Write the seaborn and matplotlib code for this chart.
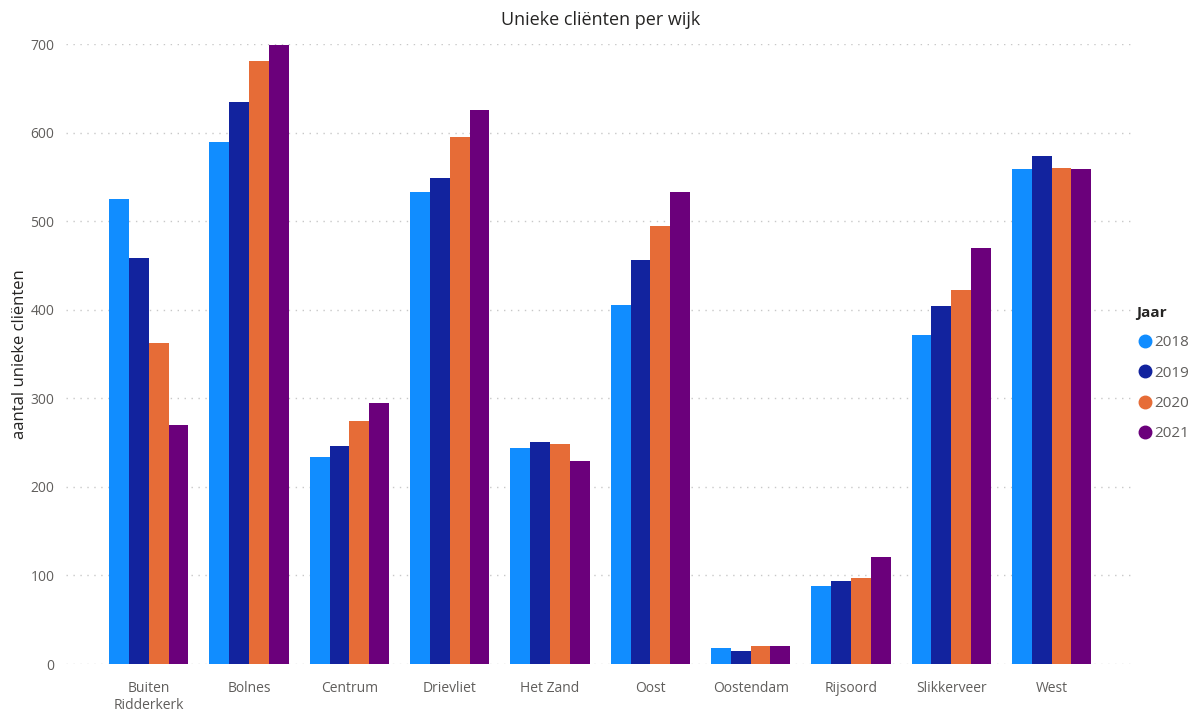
import pandas as pd
import matplotlib.pyplot as plt
import seaborn as sns

# data
wijken = ['Buiten\nRidderkerk', 'Bolnes', 'Centrum', 'Drievliet', 'Het Zand',
          'Oost', 'Oostendam', 'Rijsoord', 'Slikkerveer', 'West']
jaren = ['2018', '2019', '2020', '2021']
clienten_2018 = [525, 589, 234, 533, 244, 405, 18, 88, 371, 559]
clienten_2019 = [458, 634, 246, 549, 251, 456, 15, 94, 404, 574]
clienten_2020 = [362, 681, 274, 595, 248, 494, 20, 97, 422, 560]
clienten_2021 = [270, 699, 295, 625, 229, 533, 20, 121, 470, 559]
kleuren = ['#118DFF', '#12239E', '#E66C37', '#6B007B']

rows = []
for jaar, waarden in zip(jaren, [clienten_2018, clienten_2019, clienten_2020, clienten_2021]):
    for wijk, v in zip(wijken, waarden):
        rows.append({'Wijk': wijk, 'Jaar': jaar, 'Aantal': v})
df = pd.DataFrame(rows)

sns.set_style('white')
plt.rcParams['font.family'] = ['Open Sans', 'DejaVu Sans']

fig = plt.figure(figsize=(11.92, 7.16), dpi=100)
ax = fig.add_axes([0.055, 0.0726, 0.897, 0.8659])

sns.barplot(data=df, x='Wijk', y='Aantal', hue='Jaar', order=wijken, hue_order=jaren,
            palette=kleuren, saturation=1, width=0.79, gap=0, linewidth=0,
            ax=ax, legend=False)

ax.set_ylim(0, 700)
ax.set_xlim(-0.83, 9.83)
ax.set_yticks(range(0, 701, 100))
ax.yaxis.grid(True, linestyle=(0, (1, 4)), color='#C8C8C8', linewidth=1)
ax.set_axisbelow(True)
for s in ax.spines.values():
    s.set_visible(False)
ax.tick_params(axis='both', length=0, labelsize=10, colors='#605E5C')
ax.tick_params(axis='x', pad=12)
ax.tick_params(axis='y', pad=8)
ax.set_xlabel('')
ax.set_ylabel('aantal unieke cliënten', fontsize=12, color='#252423', labelpad=2)
ax.set_title('Unieke cliënten per wijk', fontsize=13, color='#252423', pad=14)

# legend on the right
handles = [plt.Line2D([], [], marker='o', linestyle='', markersize=9,
                      markerfacecolor=c, markeredgecolor=c) for c in kleuren]
leg = fig.legend(handles, jaren, title='Jaar', loc='upper left',
                 bbox_to_anchor=(0.948, 0.581), frameon=False, fontsize=11,
                 handletextpad=0.0, labelspacing=1.0, borderaxespad=0,
                 alignment='left', handlelength=1.2)
leg.get_title().set_fontweight('bold')
leg.get_title().set_color('#252423')
leg.get_title().set_fontsize(11)
for t in leg.get_texts():
    t.set_color('#605E5C')

fig.savefig('out.png', dpi=100)
